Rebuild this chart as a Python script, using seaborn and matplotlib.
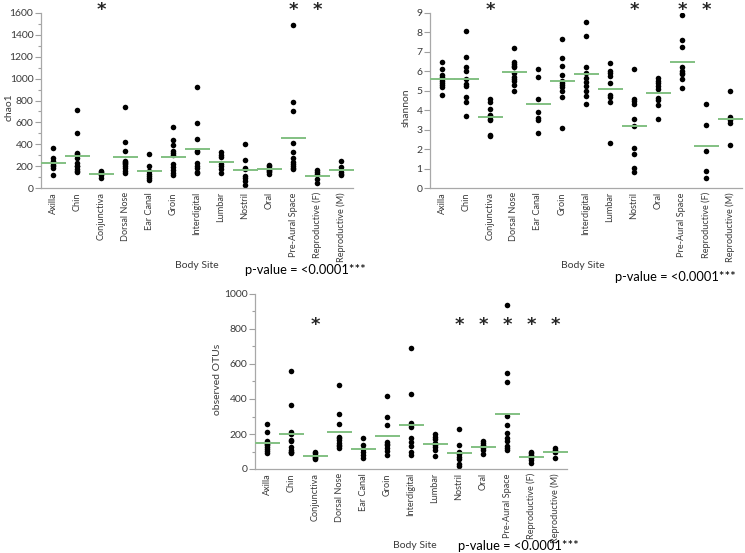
import numpy as np
import pandas as pd
import matplotlib
matplotlib.use("Agg")
import matplotlib.pyplot as plt
import seaborn as sns
from matplotlib.ticker import MultipleLocator, FixedLocator

sites = ["Axilla", "Chin", "Conjunctiva", "Dorsal Nose", "Ear Canal", "Groin",
         "Interdigital", "Lumbar", "Nostril", "Oral", "Pre-Aural Space",
         "Reproductive (F)", "Reproductive (M)"]

chao1 = [
    [370, 270, 250, 230, 210, 200, 180, 120],
    [710, 500, 320, 310, 270, 230, 200, 200, 175, 160, 150],
    [155, 145, 135, 125, 115, 95],
    [740, 425, 335, 250, 240, 230, 220, 200, 185, 160, 140],
    [310, 200, 155, 130, 110, 90, 75],
    [557, 440, 390, 335, 320, 305, 215, 190, 165, 135, 115],
    [925, 590, 445, 335, 330, 230, 200, 180, 150, 140],
    [325, 300, 280, 220, 200, 170, 140],
    [405, 260, 180, 175, 110, 90, 60, 30],
    [210, 200, 185, 175, 165, 155, 145, 130],
    [1487, 790, 705, 410, 330, 275, 240, 220, 200, 185, 170],
    [165, 145, 125, 80, 45],
    [245, 195, 150, 125, 120],
]

shannon = [
    [6.5, 6.1, 5.8, 5.7, 5.6, 5.5, 5.4, 5.3, 5.2, 4.8],
    [8.1, 6.75, 6.2, 6.0, 5.6, 5.35, 5.25, 4.7, 4.4, 3.7],
    [4.6, 4.4, 4.05, 3.75, 3.7, 3.55, 3.5, 2.75, 2.65],
    [7.2, 6.5, 6.4, 6.3, 6.2, 5.9, 5.7, 5.6, 5.5, 5.3, 5.0],
    [6.1, 5.7, 4.6, 3.9, 3.6, 3.5, 2.85],
    [7.65, 6.7, 6.3, 5.8, 5.5, 5.4, 5.3, 5.2, 5.0, 4.7, 3.1],
    [8.55, 7.8, 6.2, 5.9, 5.65, 5.45, 5.25, 5.0, 4.75, 4.3],
    [6.45, 6.0, 5.9, 5.75, 5.4, 4.8, 4.7, 4.4, 2.3],
    [6.1, 4.6, 4.5, 4.3, 3.55, 3.2, 2.05, 1.75, 1.05, 0.8],
    [5.65, 5.5, 5.4, 5.25, 5.1, 4.65, 4.55, 4.25, 3.55],
    [8.9, 7.6, 7.25, 6.2, 6.0, 5.9, 5.85, 5.6, 5.15],
    [4.3, 3.25, 1.9, 0.85, 0.5],
    [5.0, 3.65, 3.5, 3.35, 2.2],
]

otus = [
    [260, 210, 160, 150, 145, 135, 125, 115, 105, 90],
    [560, 365, 210, 200, 165, 160, 125, 110, 100, 95, 90],
    [98, 90, 82, 76, 70, 64, 58],
    [480, 315, 260, 185, 175, 165, 150, 140, 130, 120],
    [175, 135, 115, 100, 80, 65],
    [420, 295, 250, 155, 145, 135, 120, 105, 80],
    [690, 430, 265, 250, 240, 175, 155, 130, 100, 80],
    [200, 185, 170, 150, 135, 125, 110, 75],
    [230, 135, 100, 85, 70, 55, 30, 15],
    [160, 150, 140, 130, 120, 110, 85],
    [935, 548, 498, 302, 250, 205, 180, 160, 130, 118, 110],
    [100, 90, 80, 72, 62, 50, 35],
    [120, 110, 100, 95, 65],
]

chao1_sig = ["Conjunctiva", "Pre-Aural Space", "Reproductive (F)"]
shannon_sig = ["Conjunctiva", "Nostril", "Pre-Aural Space", "Reproductive (F)"]
otus_sig = ["Conjunctiva", "Nostril", "Oral", "Pre-Aural Space",
            "Reproductive (F)", "Reproductive (M)"]
p_text = "p-value = <0.0001***"
x_title = "Body Site"

sns.set_style("white")
plt.rcParams["font.family"] = ["Lato", "DejaVu Sans"]

W, H = 745, 553
fig = plt.figure(figsize=(W / 100, H / 100), dpi=100)


def to_long(values):
    rows = [(s, v) for s, vals in zip(sites, values) for v in vals]
    return pd.DataFrame(rows, columns=["site", "value"])


def panel(left_px, bottom_px, values, ylabel, ymax, major, minor, sig, star_frac, ylab_xy):
    ax = fig.add_axes([left_px / W, 1 - bottom_px / H, 312 / W, 175 / H])
    df = to_long(values)
    sns.stripplot(data=df, x="site", y="value", order=sites, jitter=False,
                  color="black", size=4, ax=ax, zorder=2)
    sns.pointplot(data=df, x="site", y="value", order=sites, estimator="mean",
                  errorbar=None, color="#82c082", marker="_", markersize=18,
                  markeredgewidth=1.4, linestyle="none", ax=ax, zorder=3)
    ax.set_xlim(-0.5, 12.5)
    ax.set_ylim(0, ymax)
    ax.yaxis.set_major_locator(MultipleLocator(major))
    if minor:
        ax.yaxis.set_minor_locator(MultipleLocator(minor))
    ax.xaxis.set_minor_locator(FixedLocator(np.arange(0.5, 12.6, 1)))
    ax.tick_params(axis="x", which="major", length=0, labelrotation=90,
                   labelsize=6.6, labelcolor="#3a3a3a", pad=3)
    ax.tick_params(axis="x", which="minor", length=4, color="#a0a0a0", width=0.8)
    ax.tick_params(axis="y", which="major", length=4, color="#a0a0a0", width=0.8,
                   labelsize=7.5, labelcolor="#3a3a3a", left=True, pad=1.5)
    ax.tick_params(axis="y", which="minor", length=2.5, color="#a0a0a0", width=0.8, left=True)
    for s in ["top", "right"]:
        ax.spines[s].set_visible(False)
    for s in ["left", "bottom"]:
        ax.spines[s].set_color("#a8a8a8")
        ax.spines[s].set_linewidth(0.9)
    ax.set_xlabel("")
    ax.set_ylabel(ylabel, fontsize=7.5, color="#3a3a3a")
    ax.yaxis.set_label_coords(*ylab_xy)
    for name in sig:
        ax.text(sites.index(name), star_frac, "*", transform=ax.get_xaxis_transform(),
                ha="center", va="center", fontsize=13, fontweight="bold",
                family="DejaVu Sans", clip_on=False)
    return ax


panel(41, 188, chao1, "chao1", 1600, 200, 100, chao1_sig, 1.02, (-0.087, 0.46))
panel(430, 188, shannon, "shannon", 9, 1, None, shannon_sig, 1.02, (-0.061, 0.46))
panel(255, 469, otus, "observed OTUs", 1000, 200, 100, otus_sig, 0.82, (-0.106, 0.51))

fig.text(197 / W, 1 - 265 / H, x_title, ha="center", va="center", fontsize=7.5, color="#3a3a3a")
fig.text(245 / W, 1 - 270 / H, p_text, ha="left", va="center", fontsize=9.3, color="black")
fig.text(583 / W, 1 - 265 / H, x_title, ha="center", va="center", fontsize=7.5, color="#3a3a3a")
fig.text(615 / W, 1 - 277 / H, p_text, ha="left", va="center", fontsize=9.3, color="black")
fig.text(415 / W, 1 - 546 / H, x_title, ha="center", va="center", fontsize=7.5, color="#3a3a3a")
fig.text(458 / W, 1 - 546 / H, p_text, ha="left", va="center", fontsize=9.3, color="black")

fig.savefig("out.png", dpi=100, facecolor="white")
